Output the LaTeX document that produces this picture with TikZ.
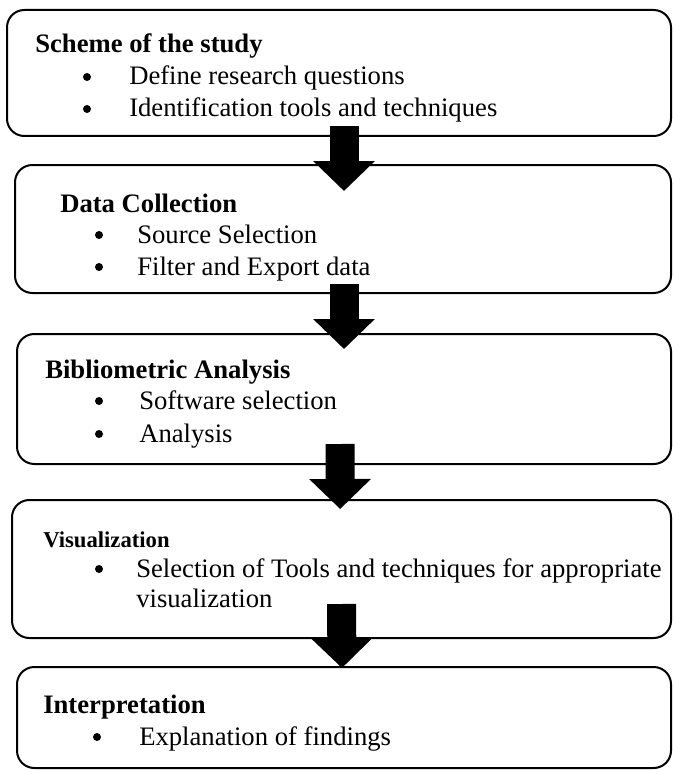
\documentclass[tikz,border=0pt]{standalone}
\usepackage{fontspec}
\setmainfont{Liberation Serif}
\usetikzlibrary{arrows.meta,fit}

\tikzset{
  box/.style={draw, line width=1.5pt, rounded corners=13pt, inner sep=0pt},
  head/.style={font=\fontsize{20}{24}\selectfont\bfseries, anchor=base west, inner sep=0pt},
  txt/.style={font=\fontsize{20}{24}\selectfont, anchor=base west, inner sep=0pt},
  blt/.style={circle, fill, minimum size=6pt, inner sep=0pt},
  down/.style={line width=21.75pt, -{Triangle[width=45pt,length=22.5pt]}},
}

\begin{document}
\begin{tikzpicture}[x=0.75pt, y=-0.75pt]
    \useasboundingbox (0,0) rectangle (673,770);
    % the five stages
    \node[box, fit={(7,10) (671,136)}] (b1) {};
    \node[box, fit={(15,165) (671,293)}] (b2) {};
    \node[box, fit={(17,334) (671,464)}] (b3) {};
    \node[box, fit={(12,500) (671,638)}] (b4) {};
    \node[box, fit={(17,667) (671,768)}] (b5) {};
    % texts
    \node[head] (h1) at (35,53) {Scheme of the study};
    \node[blt] (d1a) at (87,77) {};
    \node[txt] (t1a) at (129,85) {Define research questions};
    \node[blt] (d1b) at (87,109) {};
    \node[txt] (t1b) at (129,117) {Identification tools and techniques};
    \node[head] (h2) at (60,212) {Data Collection};
    \node[blt] (d2a) at (99,235) {};
    \node[txt] (t2a) at (137,243) {Source Selection};
    \node[blt] (d2b) at (99,267) {};
    \node[txt] (t2b) at (137,275) {Filter and Export data};
    \node[head] (h3) at (45,378) {Bibliometric Analysis};
    \node[blt] (d3a) at (99,401) {};
    \node[txt] (t3a) at (139,409) {Software selection};
    \node[blt] (d3b) at (99,434) {};
    \node[txt] (t3b) at (139,442) {Analysis};
    \node[head, font=\fontsize{17}{20}\selectfont\bfseries] (h4) at (43,547) {Visualization};
    \node[blt] (d4a) at (99,569) {};
    \node[txt] (t4a) at (136,577) {Selection of Tools and techniques for appropriate};
    \node[txt] (t4b) at (136,607) {visualization};
    \node[head] (h5) at (43,713) {Interpretation};
    \node[blt] (d5a) at (97,737) {};
    \node[txt] (t5a) at (139,745) {Explanation of findings};
    % block arrows between stages
    \draw[down]([xshift=3.75pt,yshift=8.25pt]b1.south)--([xshift=0.75pt,yshift=-20.25pt]b2.north);
    \draw[down]([xshift=0.75pt,yshift=7.5pt]b2.south)--([yshift=-12pt]b3.north);
    \draw[down]([xshift=-3pt,yshift=15.75pt]b3.south)--([xshift=-1pt,yshift=-7.5pt]b4.north);
    \draw[down]([yshift=26.25pt]b4.south)--([xshift=-1.5pt,yshift=-1.5pt]b5.north);
\end{tikzpicture}
\end{document}
